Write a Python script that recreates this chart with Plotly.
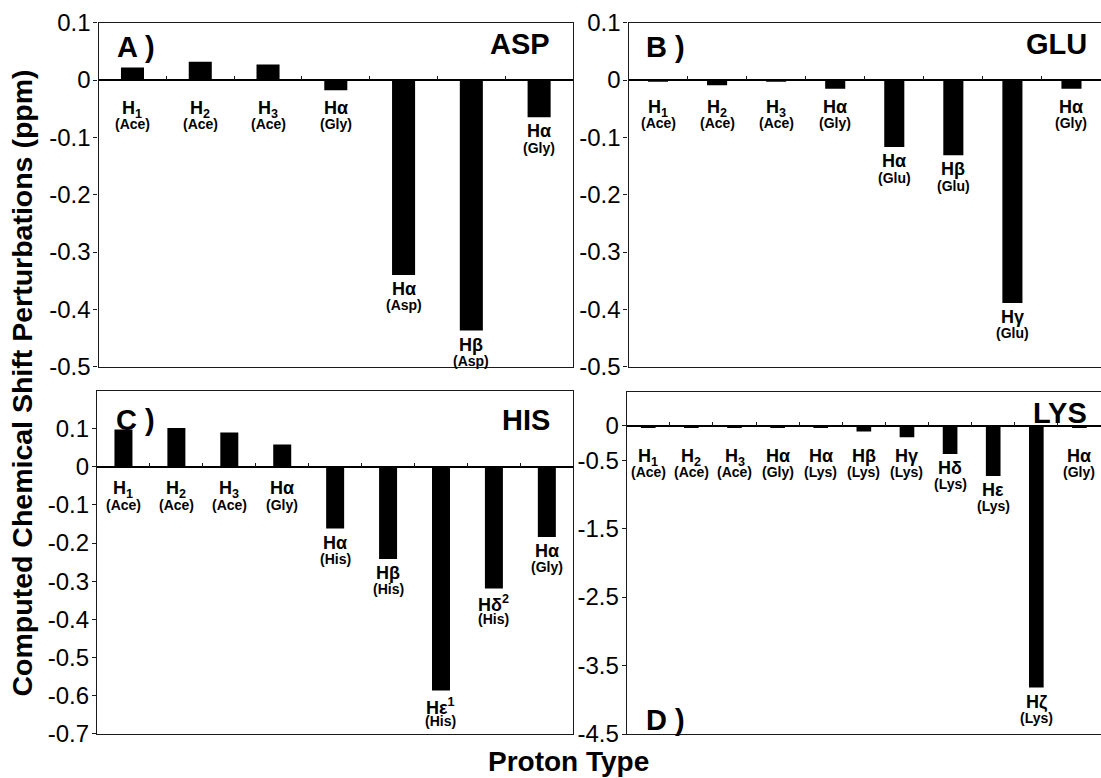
import plotly.graph_objects as go

W, H = 1101, 778
FONT = "Liberation Sans, Arial, sans-serif"

# ---------------- data ----------------
asp_protons = ["H<sub>1</sub>", "H<sub>2</sub>", "H<sub>3</sub>", "Hα", "Hα", "Hβ", "Hα"]
asp_residues = ["(Ace)", "(Ace)", "(Ace)", "(Gly)", "(Asp)", "(Asp)", "(Gly)"]
asp_values = [0.022, 0.032, 0.027, -0.018, -0.340, -0.437, -0.065]

glu_protons = ["H<sub>1</sub>", "H<sub>2</sub>", "H<sub>3</sub>", "Hα", "Hα", "Hβ", "Hγ", "Hα"]
glu_residues = ["(Ace)", "(Ace)", "(Ace)", "(Gly)", "(Glu)", "(Glu)", "(Glu)", "(Gly)"]
glu_values = [-0.003, -0.009, -0.003, -0.015, -0.117, -0.131, -0.389, -0.015]

his_protons = ["H<sub>1</sub>", "H<sub>2</sub>", "H<sub>3</sub>", "Hα", "Hα", "Hβ",
               "Hε<sup>1</sup>", "Hδ<sup>2</sup>", "Hα"]
his_residues = ["(Ace)", "(Ace)", "(Ace)", "(Gly)", "(His)", "(His)", "(His)", "(His)", "(Gly)"]
his_values = [0.098, 0.102, 0.090, 0.059, -0.162, -0.242, -0.587, -0.319, -0.184]

lys_protons = ["H<sub>1</sub>", "H<sub>2</sub>", "H<sub>3</sub>", "Hα", "Hα", "Hβ", "Hγ",
               "Hδ", "Hε", "Hζ", "Hα"]
lys_residues = ["(Ace)", "(Ace)", "(Ace)", "(Gly)", "(Lys)", "(Lys)", "(Lys)", "(Lys)",
                "(Lys)", "(Lys)", "(Gly)"]
lys_values = [-0.03, -0.03, -0.03, -0.03, -0.03, -0.08, -0.165, -0.41, -0.73, -3.82, -0.03]

asp_glu_yticks = [0.1, 0, -0.1, -0.2, -0.3, -0.4, -0.5]
his_yticks = [0.1, 0, -0.1, -0.2, -0.3, -0.4, -0.5, -0.6, -0.7]
lys_yticks = [0, -0.5, -1.5, -2.5, -3.5, -4.5]

panel_letters = ["A )", "B )", "C )", "D )"]
panel_names = ["ASP", "GLU", "HIS", "LYS"]

y_title = "Computed Chemical Shift Perturbations (ppm)"
x_title = "Proton Type"

# ---------------- layout config (pixels) ----------------
panels = [
    dict(protons=asp_protons, residues=asp_residues, values=asp_values, yticks=asp_glu_yticks,
         yrange=[-0.5, 0.1], box=(98.6, 573.0, 22.7, 366.7), mirror=True, Z=20.5,
         letter_pos=(115, 35), name_pos=(551, 32)),
    dict(protons=glu_protons, residues=glu_residues, values=glu_values, yticks=asp_glu_yticks,
         yrange=[-0.5, 0.1], box=(628.5, 1101.0, 22.7, 366.7), mirror=False, Z=19.5,
         letter_pos=(643.6, 35), name_pos=(1088.3, 33)),
    dict(protons=his_protons, residues=his_residues, values=his_values, yticks=his_yticks,
         yrange=[-0.7, 0.2], box=(97.0, 573.3, 390.7, 733.5), mirror=True, Z=14,
         letter_pos=(113.6, 408.3), name_pos=(550.7, 408.3)),
    dict(protons=lys_protons, residues=lys_residues, values=lys_values, yticks=lys_yticks,
         yrange=[-4.5, 0.5], box=(626.7, 1101.0, 391.7, 734.0), mirror=False, Z=22,
         letter_pos=(643.6, 708.3), name_pos=(1088.3, 401.7)),
]

LINE = "#1a1a1a"
G = 6.5  # gap between bar end and its label (px)


def px_x(x):
    return x / W


def px_y(y):
    return 1 - y / H


def fmt(v):
    return "0" if v == 0 else f"{v:g}"


fig = go.Figure()
layout = dict(
    template="none",
    width=W, height=H, margin=dict(l=0, r=0, t=0, b=0, pad=0, autoexpand=False),
    paper_bgcolor="white", plot_bgcolor="white", showlegend=False,
    font=dict(family=FONT, color="black"),
)
annotations = []

for i, p in enumerate(panels):
    k = i + 1
    xn = "x" if k == 1 else f"x{k}"
    yn = "y" if k == 1 else f"y{k}"
    tk = i + 5
    xt = f"x{tk}"
    n = len(p["values"])
    cats = list(range(n))
    x0, x1, yt, yb = p["box"]
    xdom = [px_x(x0), min(1.0, px_x(x1))]
    ydom = [px_y(yb), px_y(yt)]
    ymin, ymax = p["yrange"]
    zero_paper = ydom[0] + (0 - ymin) / (ymax - ymin) * (ydom[1] - ydom[0])
    ppu = (yb - yt) / (ymax - ymin)

    fig.add_trace(go.Bar(x=cats, y=p["values"], xaxis=xn, yaxis=yn, width=0.34,
                         marker=dict(color="black", line=dict(width=0)), hoverinfo="skip"))
    # invisible helper so the category-boundary tick axis is drawn
    bounds = [c + 0.5 for c in cats[:-1]]
    fig.add_trace(go.Scatter(x=bounds, y=[0] * len(bounds), xaxis=xt, yaxis=yn,
                             mode="markers", marker=dict(opacity=0), hoverinfo="skip"))

    layout["xaxis" if k == 1 else f"xaxis{k}"] = dict(
        domain=xdom, anchor=yn, range=[-0.5, n - 0.5], showline=True, mirror=True,
        linecolor=LINE, linewidth=1.3, ticks="", showticklabels=False, showgrid=False,
        zeroline=False, fixedrange=True, automargin=False)
    layout[f"xaxis{tk}"] = dict(
        domain=xdom, overlaying=xn, anchor="free", position=zero_paper, side="bottom",
        range=[-0.5, n - 0.5], tickvals=bounds, ticks="inside", ticklen=4, tickwidth=1,
        tickcolor=LINE, showticklabels=False, showline=False, showgrid=False, zeroline=False,
        automargin=False)
    layout["yaxis" if k == 1 else f"yaxis{k}"] = dict(
        domain=ydom, anchor=xn, range=[ymin, ymax], showline=True, mirror=p["mirror"],
        linecolor=LINE, linewidth=1.3, ticks="outside", ticklen=4, tickwidth=1,
        tickcolor=LINE, tickvals=p["yticks"], ticktext=[fmt(v) for v in p["yticks"]],
        tickfont=dict(size=24, family=FONT, color="black"), showgrid=False,
        ticklabelstandoff=-2, automargin=False,
        zeroline=True, zerolinecolor="black", zerolinewidth=1.6, fixedrange=True)

    # bar labels
    for c, v, prot, res in zip(cats, p["values"], p["protons"], p["residues"]):
        barpx = max(0.0, -v) * ppu
        cap_top = max(p["Z"], barpx + G)
        annotations.append(dict(
            x=c, y=0, xref=xn, yref=yn, text=f"<b>{prot}</b>", showarrow=False,
            xanchor="center", yanchor="top", yshift=-(cap_top - 4.4),
            font=dict(size=18, family=FONT, color="black")))
        annotations.append(dict(
            x=c, y=0, xref=xn, yref=yn, text=f"<b>{res}</b>", showarrow=False,
            xanchor="center", yanchor="top", yshift=-(cap_top + 17.5 - 3.6),
            font=dict(size=14, family=FONT, color="black")))

    lx, ly = p["letter_pos"]
    annotations.append(dict(
        x=px_x(lx), y=px_y(ly - 6.5), xref="paper", yref="paper", text=f"<b>{panel_letters[i]}</b>",
        showarrow=False, xanchor="left", yanchor="top",
        font=dict(size=29, family=FONT, color="black")))
    nx, ny = p["name_pos"]
    annotations.append(dict(
        x=px_x(nx + 1), y=px_y(ny - 6.5), xref="paper", yref="paper", text=f"<b>{panel_names[i]}</b>",
        showarrow=False, xanchor="right", yanchor="top",
        font=dict(size=29, family=FONT, color="black")))

annotations.append(dict(
    x=px_x(21), y=px_y(383.5), xref="paper", yref="paper", text=f"<b>{y_title}</b>",
    textangle=-90, showarrow=False, xanchor="center", yanchor="middle",
    font=dict(size=28.5, family=FONT, color="black")))
annotations.append(dict(
    x=px_x(568.8), y=px_y(761), xref="paper", yref="paper", text=f"<b>{x_title}</b>",
    showarrow=False, xanchor="center", yanchor="middle",
    font=dict(size=28, family=FONT, color="black")))

layout["annotations"] = annotations
fig.update_layout(**layout)
fig.write_html("out.html")
